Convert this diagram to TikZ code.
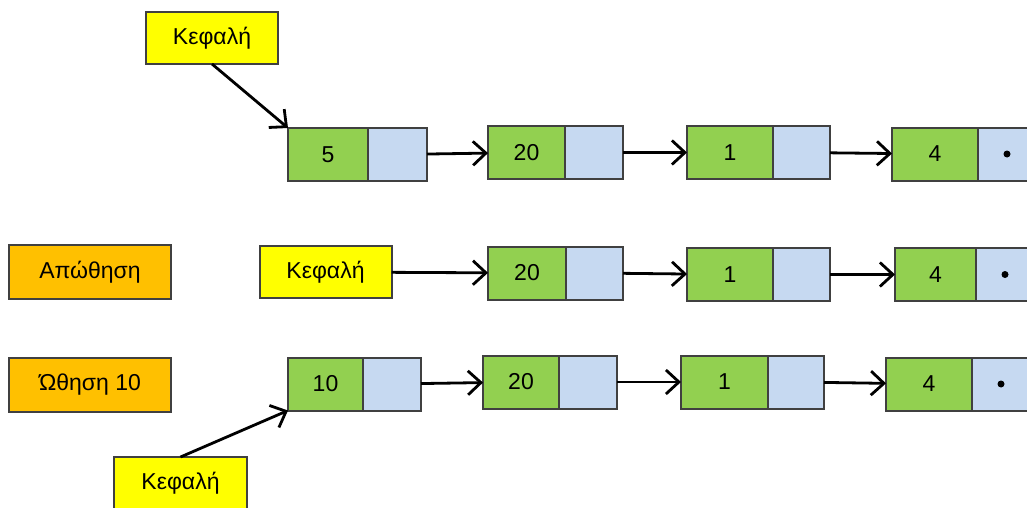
\documentclass[tikz,border=0pt]{standalone}
\usepackage{fontspec}
\setmainfont{Liberation Sans}
\usepackage{xcolor}
\usetikzlibrary{arrows.meta,positioning}
\definecolor{cellgreen}{HTML}{92D050}
\definecolor{cellblue}{HTML}{C6D9F1}
\definecolor{headyellow}{HTML}{FFFF00}
\definecolor{oporange}{HTML}{FFC000}

\begin{document}
\begin{tikzpicture}[x=1pt, y=-1pt,
  box/.style={draw=black!75, line width=2pt, inner sep=0pt, outer sep=0pt,
    minimum height=53pt, font=\fontsize{23}{26}\selectfont},
  data/.style={box, fill=cellgreen, anchor=west},
  ptr/.style={box, fill=cellblue, minimum width=58pt, right=0pt of #1},
  head/.style={box, fill=headyellow, minimum width=132pt, minimum height=52pt},
  op/.style={box, fill=oporange, minimum width=162pt, minimum height=54pt},
  arr/.style={-{Straight Barb[length=13pt,width=24pt,line width=2.8pt]},
    line width=2.8pt},
  nil/.style={fill=black, radius=3.5pt},
]
  \useasboundingbox (0,0) rectangle (1027,508);

  % first list
  \node[head] (head1) at (212,38) {Κεφαλή};
  \node[data, minimum width=80pt] (d11) at (288,154.5) {5};
  \node[ptr=d11, minimum width=59pt] (p11) {};
  \node[data, minimum width=77pt] (d12) at (488,152.5) {20};
  \node[ptr=d12] (p12) {};
  \node[data, minimum width=86pt] (d13) at (687,152.5) {1};
  \node[ptr=d13, minimum width=57pt] (p13) {};
  \node[data, minimum width=86pt] (d14) at (892,154) {4};
  \node[ptr=d14] (p14) {};
  \fill[nil] (p14) circle;

  \draw[arr] (head1.south) -- (d11.north west);
  \draw[arr] (p11) -- (d12);
  \draw[arr] (p12) -- (d13);
  \draw[arr] (p13) -- (d14);

  % pop
  \node[op] (pop) at (90,272) {Απώθηση};
  \node[head] (head2) at (325.5,272) {Κεφαλή};
  \node[data, minimum width=78pt] (d22) at (488,273) {20};
  \node[ptr=d22, minimum width=57pt] (p22) {};
  \node[data, minimum width=86pt] (d23) at (687,274.5) {1};
  \node[ptr=d23, minimum width=57pt] (p23) {};
  \node[data, minimum width=81pt] (d24) at (895,274.5) {4};
  \node[ptr=d24] (p24) {};
  \fill[nil] (p24) circle;

  \draw[arr] (head2) -- (d22);
  \draw[arr] (p22) -- (d23);
  \draw[arr] (p23) -- (d24);

  % push 10
  \node[op] (push) at (90,384.5) {Ώθηση 10};
  \node[data, minimum width=75pt] (d31) at (288,384) {10};
  \node[ptr=d31] (p31) {};
  \node[data, minimum width=76pt] (d32) at (483,382) {20};
  \node[ptr=d32] (p32) {};
  \node[data, minimum width=87pt] (d33) at (681,382) {1};
  \node[ptr=d33, minimum width=56pt] (p33) {};
  \node[data, minimum width=86pt] (d34) at (886,384) {4};
  \node[ptr=d34] (p34) {};
  \fill[nil] (p34) circle;
  \node[head, minimum width=133pt] (head3) at (180.5,483) {Κεφαλή};

  \draw[arr] (p31) -- (d32);
  \draw[arr] (p32) -- (d33);
  \draw[arr] (p33) -- (d34);
  \draw[arr] (head3.north) -- (d31.south west);
\end{tikzpicture}
\end{document}
